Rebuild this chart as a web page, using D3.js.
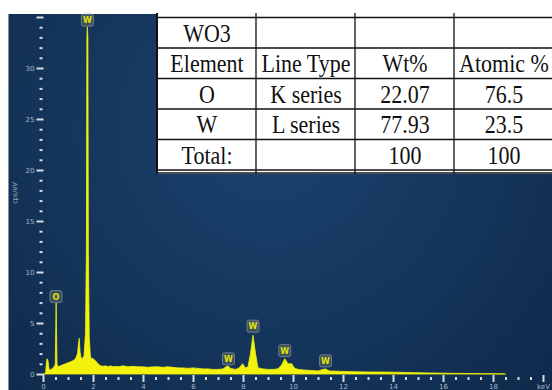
<!DOCTYPE html>
<html><head><meta charset="utf-8">
<script src="https://cdnjs.cloudflare.com/ajax/libs/d3/7.8.5/d3.min.js"></script>
<style>body{margin:0;background:#fff;overflow:hidden}svg{display:block}
.tcell{font-family:"Liberation Serif","Times New Roman","DejaVu Serif",serif;font-size:22px}</style>
</head><body><svg id="c" width="552" height="390"></svg>
<script>
// ---- spectrum data (keV vs cps/eV) ----
const energy = [0,0.1,0.13,0.16,0.2,0.24,0.3,0.4,0.47,0.49,0.525,0.56,0.6,0.7,0.8,0.9,1.0,1.1,1.2,1.3,1.38,1.42,1.45,1.48,1.52,1.58,1.64,1.7,1.735,1.755,1.775,1.795,1.815,1.85,1.9,2.0,2.1,2.2,2.3,2.4,2.5,2.6,2.7,2.8,2.9,3.0,3.2,3.4,3.6,3.8,4.0,4.2,4.4,4.6,4.8,5.0,5.2,5.4,5.6,5.8,6.0,6.2,6.4,6.6,6.8,7.0,7.2,7.32,7.4,7.5,7.7,7.85,7.98,8.1,8.2,8.3,8.4,8.5,8.6,8.8,9.0,9.2,9.4,9.55,9.67,9.8,9.95,10.05,10.2,10.4,10.7,11.0,11.2,11.3,11.45,11.7,12,12.5,13,13.5,14,14.5,15,15.5,16,16.5,17,17.5,18,18.5];
const cps    = [0,0,0.9,1.5,1.3,0.5,0.4,0.6,0.8,1.0,7.0,1.0,0.7,0.8,0.9,1.0,1.1,1.2,1.3,1.5,2.0,3.0,3.5,2.2,1.6,1.5,1.8,4.0,12,33,34,33,12,3.5,1.6,1.5,1.3,1.0,0.8,0.75,0.8,0.7,0.8,0.7,0.75,0.7,0.8,0.7,0.75,0.7,0.7,0.65,0.7,0.7,0.65,0.7,0.65,0.6,0.6,0.55,0.6,0.55,0.5,0.5,0.45,0.45,0.5,0.7,0.8,0.55,0.45,0.6,1.0,0.6,0.7,2.0,3.8,2.0,0.6,0.5,0.45,0.45,0.5,0.9,1.5,1.0,1.0,0.6,0.45,0.4,0.35,0.3,0.45,0.5,0.3,0.28,0.25,0.22,0.2,0.19,0.18,0.15,0.12,0.1,0.08,0.06,0.05,0.03,0.02,0];

// ---- peak labels ----
const peakNames = ["O","W","W","W","W","W"];
const peakEnergy = [0.52,1.775,7.42,8.4,9.67,11.3];
const peakLabelCps = [7.0,34.1,0.9,4.1,1.7,0.7];

// ---- axes ----
const yMajorTicks = [0,5,10,15,20,25,30,35];
const yMajorLabels = ["0","5","10","15","20","25","30",""];
const xMajorTicks = [0,2,4,6,8,10,12,14,16,18,20];
const xMajorLabels = ["0","2","4","6","8","10","12","14","16","18","keV"];
const yTitle = "cps/eV";

// ---- table ----
const tableTitle = ["WO3","","",""];
const tableHeader = ["Element","Line Type","Wt%","Atomic %"];
const elements = ["O","W","Total:"];
const lineTypes = ["K series","L series",""];
const wtPct = ["22.07","77.93","100"];
const atomicPct = ["76.5","23.5","100"];

const svg = d3.select("#c");
const defs = svg.append("defs");
const rg = defs.append("radialGradient").attr("id","bg").attr("gradientUnits","userSpaceOnUse")
  .attr("cx",270).attr("cy",130).attr("r",380);
rg.append("stop").attr("offset","0").attr("stop-color","#1b436f");
rg.append("stop").attr("offset","1").attr("stop-color","#0f2a4b");
defs.append("clipPath").attr("id","plotclip").append("rect").attr("x",8).attr("y",14).attr("width",544).attr("height",376);

svg.append("rect").attr("x",8).attr("y",14).attr("width",544).attr("height",376).attr("fill","url(#bg)");
svg.append("line").attr("x1",8.5).attr("x2",8.5).attr("y1",14).attr("y2",390).attr("stroke","#7f90a6").attr("stroke-width",1);

const x = d3.scaleLinear().domain([0,20]).range([43,543]);
const y = d3.scaleLinear().domain([0,35]).range([374,17]);

// spectrum
const area = d3.area().x((d,i)=>x(energy[i])).y0(y(0)).y1((d,i)=>y(cps[i]));
svg.append("g").attr("clip-path","url(#plotclip)").append("path")
  .datum(cps).attr("d",area).attr("fill","#f2f20c").attr("stroke","#f2f20c").attr("stroke-width",0.8);

// Y axis
const tickCol = "#d6dde6", labCol = "#aab6c4";
const yMinor = d3.range(0,36,1).filter(v=>yMajorTicks.indexOf(v)<0);
const yMaj = svg.append("g").attr("transform","translate(43.5,0)")
  .call(d3.axisLeft(y).tickValues(yMajorTicks).tickSize(7).tickPadding(2).tickFormat((d,i)=>yMajorLabels[i]));
const yMin = svg.append("g").attr("transform","translate(42.5,0)")
  .call(d3.axisLeft(y).tickValues(yMinor).tickSize(3).tickFormat(""));
[yMaj,yMin].forEach(g=>{g.select(".domain").remove();g.selectAll("line").attr("stroke",tickCol).attr("stroke-width",2);});
yMaj.selectAll("text").attr("fill",labCol).style("font-family","DejaVu Sans, sans-serif").style("font-size","7px");

svg.append("text").attr("transform","translate(17,193) rotate(-90)").attr("text-anchor","middle")
  .attr("fill","#9fb0c4").style("font-family","DejaVu Sans, sans-serif").style("font-size","6.5px").text(yTitle);

// X axis
const xMinor = d3.range(0,20.01,0.5).filter(v=>xMajorTicks.indexOf(v)<0);
const xMaj = svg.append("g").attr("transform","translate(0,375)")
  .call(d3.axisBottom(x).tickValues(xMajorTicks).tickSize(7).tickPadding(2).tickFormat((d,i)=>xMajorLabels[i]));
const xMin = svg.append("g").attr("transform","translate(0,377)")
  .call(d3.axisBottom(x).tickValues(xMinor).tickSize(3).tickFormat(""));
[xMaj,xMin].forEach(g=>{g.select(".domain").remove();g.selectAll("line").attr("stroke",tickCol).attr("stroke-width",2);});
xMaj.selectAll("text").attr("fill",labCol).style("font-family","DejaVu Sans, sans-serif").style("font-size","7px");

// peak labels
const lg = svg.append("g");
peakNames.forEach((n,i)=>{
  const cx = x(peakEnergy[i]), by = y(peakLabelCps[i]);
  lg.append("rect").attr("x",cx-6).attr("y",by-12).attr("width",12).attr("height",12).attr("rx",2)
    .attr("fill","rgba(95,105,95,0.55)").attr("stroke","#7d8c9c").attr("stroke-width",0.8);
  lg.append("text").attr("x",cx).attr("y",by-3).attr("text-anchor","middle")
    .attr("fill","#e4e40a").style("font-family","DejaVu Sans, sans-serif").style("font-size","8px").style("font-weight","bold").text(n);
});

// table
const tx0 = 157, colW = 99, rowTops = [17.5,48,78.5,109,139.5], rowH = 30.5;
svg.append("rect").attr("x",tx0).attr("y",0).attr("width",552-tx0).attr("height",174).attr("fill","#fff");
const tg = svg.append("g");
const rows = [tableTitle, tableHeader].concat(elements.map((e,i)=>[e,lineTypes[i],wtPct[i],atomicPct[i]]));
[17.5,48,78.5,109,139.5,170,173].forEach(yy=>tg.append("line").attr("x1",tx0).attr("x2",552).attr("y1",yy).attr("y2",yy).attr("stroke","#111").attr("stroke-width",1.3));
[0,1,2,3].forEach(c=>tg.append("line").attr("x1",tx0+c*colW).attr("x2",tx0+c*colW).attr("y1",13).attr("y2",174)
  .attr("stroke","#111").attr("stroke-width",c===0?2:1.3));
rows.forEach((r,ri)=>r.forEach((t,ci)=>{
  if(!t) return;
  tg.append("text").attr("class","tcell").attr("transform",`translate(${tx0+ci*colW+colW/2+0.5},${rowTops[ri]+rowH-6.5}) scale(1,1.12)`)
    .attr("text-anchor","middle").attr("fill","#111").text(t);
}));
</script></body></html>
